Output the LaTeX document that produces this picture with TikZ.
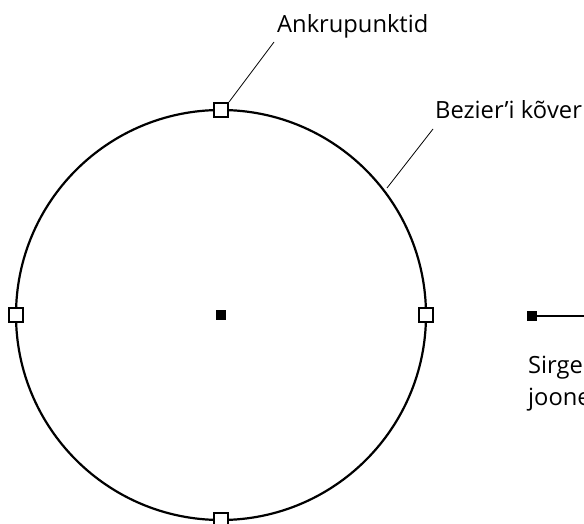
\documentclass[tikz,border=0pt]{standalone}
\usepackage{fontspec}
\setmainfont{Open Sans}
\begin{document}
\begin{tikzpicture}[x=1pt,y=-1pt,
  curve/.style={line width=2.2pt},
  leader/.style={line width=0.8pt},
  anchorpt/.style={draw, fill=white, line width=2pt, minimum size=14pt, inner sep=0pt},
  solidpt/.style={fill=black, minimum size=10pt, inner sep=0pt},
  lbl/.style={font=\fontsize{23.7}{28}\selectfont, inner sep=0pt, anchor=base west}]
\useasboundingbox (0,0) rectangle (584,524);
\coordinate (c) at (221,315);
\draw[curve] (c) circle[radius=205];
\node[solidpt] (ctr) at (c) {};
\node[anchorpt] (top) at (221,110) {};
\node[anchorpt] (bot) at (221,520) {};
\node[anchorpt] (lft) at (16,315) {};
\node[anchorpt] (rgt) at (426,315) {};
% labels
\coordinate (topend) at (274,42);
\draw[leader] (top.north east) -- (topend);
\node[lbl] (ank) at (277,33) {Ankrupunktid};
\coordinate (bp) at (387,188);
\coordinate (bend) at (433,129);
\draw[leader] (bp) -- (bend);
\node[lbl] (bez) at (435,119) {Bezier’i kõver};
% straight line
\node[solidpt] (s) at (532,316) {};
\coordinate (e) at (600,316);
\draw[line width=1.2pt] (s) -- (e);
\node[lbl] (sir) at (528,373) {Sirge};
\node[lbl] (joo) at (528,405) {joone};
\end{tikzpicture}
\end{document}
